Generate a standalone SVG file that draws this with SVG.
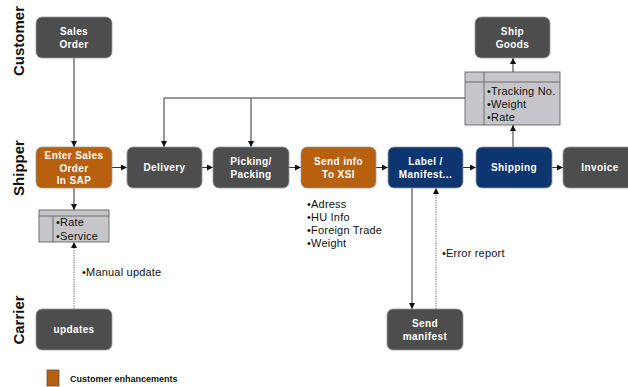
<svg xmlns="http://www.w3.org/2000/svg" width="628" height="387" viewBox="0 0 628 387">
<defs>
<marker id="ah" viewBox="0 0 8 8" refX="8" refY="4" markerWidth="6" markerHeight="6" orient="auto" markerUnits="userSpaceOnUse">
<path d="M0,0 L8,4 L0,8 z" fill="#111"/>
</marker>
<marker id="ahs" viewBox="0 0 8 8" refX="0" refY="4" markerWidth="6" markerHeight="6" orient="auto-start-reverse" markerUnits="userSpaceOnUse">
<path d="M0,0 L8,4 L0,8 z" fill="#111"/>
</marker>
<style>
.box{stroke:#9a9a9a;stroke-width:0.8}
.gray{fill:#4d4d4d}
.orange{fill:#b8600e}
.navy{fill:#0d3670}
.bt{font-family:"Liberation Sans",Arial,sans-serif;font-weight:bold;font-size:10px;fill:#fff;text-anchor:middle;letter-spacing:0.4px}
.lane{font-family:"Liberation Sans",Arial,sans-serif;font-weight:bold;font-size:15px;fill:#111;text-anchor:middle}
.note{font-family:"Liberation Sans",Arial,sans-serif;font-size:11px;fill:#111;letter-spacing:0.2px}
.tbl{fill:#c6c6ca;stroke:#555;stroke-width:0.8}
.ln{stroke:#333;stroke-width:1;fill:none}
.dot{stroke:#666;stroke-width:1;fill:none;stroke-dasharray:1.2 1.2}
</style>
</defs>
<rect width="628" height="387" fill="#fff"/>
<g id="lanes">
<text class="lane" transform="translate(24,41) rotate(-90)">Customer</text>
<text class="lane" transform="translate(24,168) rotate(-90)">Shipper</text>
<text class="lane" transform="translate(24,320) rotate(-90)">Carrier</text>
</g>
<g id="connectors">
<line class="ln" x1="74" y1="58" x2="74" y2="147" marker-end="url(#ah)"/>
<polyline class="ln" points="465,98 164,98 164,147" marker-end="url(#ah)"/>
<line class="ln" x1="251" y1="98" x2="251" y2="147" marker-end="url(#ah)"/>
<line class="ln" x1="112" y1="167.5" x2="127" y2="167.5" marker-end="url(#ah)"/>
<line class="ln" x1="202" y1="167.5" x2="213" y2="167.5" marker-end="url(#ah)"/>
<line class="ln" x1="289" y1="167.5" x2="301" y2="167.5" marker-end="url(#ah)"/>
<line class="ln" x1="376" y1="167.5" x2="388" y2="167.5" marker-end="url(#ah)"/>
<line class="ln" x1="463" y1="167.5" x2="476" y2="167.5" marker-end="url(#ah)"/>
<line class="ln" x1="552" y1="167.5" x2="563" y2="167.5" marker-end="url(#ah)"/>
<line class="ln" x1="74" y1="188" x2="74" y2="210" marker-start="url(#ahs)" marker-end="url(#ah)"/>
<line class="dot" x1="74" y1="309" x2="74" y2="242" marker-end="url(#ah)"/>
<line class="ln" x1="412" y1="188" x2="412" y2="309" marker-end="url(#ah)"/>
<line class="dot" x1="436" y1="309" x2="436" y2="188" marker-end="url(#ah)"/>
<line class="ln" x1="513" y1="147" x2="513" y2="125" marker-end="url(#ah)"/>
<line class="ln" x1="513" y1="72" x2="513" y2="58" marker-end="url(#ah)"/>
</g>
<g id="sales-order"><rect class="box gray" x="36" y="17" width="76" height="41" rx="6"/><text class="bt" x="74" y="35">Sales</text><text class="bt" x="74" y="48">Order</text></g>
<g id="enter-sales-order"><rect class="box orange" x="36" y="147" width="76" height="41" rx="6"/><text class="bt" x="74" y="159">Enter Sales</text><text class="bt" x="74" y="171.5">Order</text><text class="bt" x="74" y="184">In SAP</text></g>
<g id="delivery"><rect class="box gray" x="127" y="147" width="75" height="41" rx="6"/><text class="bt" x="164.5" y="171">Delivery</text></g>
<g id="picking"><rect class="box gray" x="213" y="147" width="76" height="41" rx="6"/><text class="bt" x="251" y="165">Picking/</text><text class="bt" x="251" y="178">Packing</text></g>
<g id="send-info"><rect class="box orange" x="301" y="147" width="75" height="41" rx="6"/><text class="bt" x="338.5" y="165">Send info</text><text class="bt" x="338.5" y="178">To XSI</text></g>
<g id="label-manifest"><rect class="box navy" x="388" y="147" width="75" height="41" rx="6"/><text class="bt" x="425.5" y="165">Label /</text><text class="bt" x="425.5" y="178">Manifest...</text></g>
<g id="shipping"><rect class="box navy" x="476" y="147" width="76" height="41" rx="6"/><text class="bt" x="514" y="171">Shipping</text></g>
<g id="invoice"><rect class="box gray" x="563" y="147" width="76" height="41" rx="6"/><text class="bt" x="600" y="171">Invoice</text></g>
<g id="ship-goods"><rect class="box gray" x="475" y="17" width="75" height="41" rx="6"/><text class="bt" x="512.5" y="35">Ship</text><text class="bt" x="512.5" y="48">Goods</text></g>
<g id="updates"><rect class="box gray" x="36" y="309" width="76" height="41" rx="6"/><text class="bt" x="74" y="333">updates</text></g>
<g id="send-manifest"><rect class="box gray" x="387" y="309" width="76" height="41" rx="6"/><text class="bt" x="425" y="327">Send</text><text class="bt" x="425" y="340">manifest</text></g>
<g id="tracking-table">
<rect class="tbl" x="465" y="72" width="95" height="53"/>
<line class="tbl" x1="465" y1="82" x2="560" y2="82"/>
<line class="tbl" x1="484" y1="72" x2="484" y2="125"/>
<text class="note" x="487" y="95">•Tracking No.</text>
<text class="note" x="487" y="108">•Weight</text>
<text class="note" x="487" y="121">•Rate</text>
</g>
<g id="rate-table">
<rect class="tbl" x="39" y="210" width="70" height="32"/>
<line class="tbl" x1="39" y1="216" x2="109" y2="216"/>
<line class="tbl" x1="53" y1="216" x2="53" y2="242"/>
<text class="note" x="56" y="226">•Rate</text>
<text class="note" x="56" y="240">•Service</text>
</g>
<g id="xsi-notes">
<text class="note" x="307" y="208">•Adress</text>
<text class="note" x="307" y="221">•HU Info</text>
<text class="note" x="307" y="234">•Foreign Trade</text>
<text class="note" x="307" y="247">•Weight</text>
</g>
<text class="note" x="82" y="276">•Manual update</text>
<text class="note" x="442" y="257">•Error report</text>
<g id="legend">
<rect x="47" y="370" width="12" height="16" fill="#b8600e" stroke="#555" stroke-width="0.8"/>
<text x="70" y="382" font-family="'Liberation Sans',Arial,sans-serif" font-weight="bold" font-size="9px" fill="#111">Customer enhancements</text>
</g>
</svg>
